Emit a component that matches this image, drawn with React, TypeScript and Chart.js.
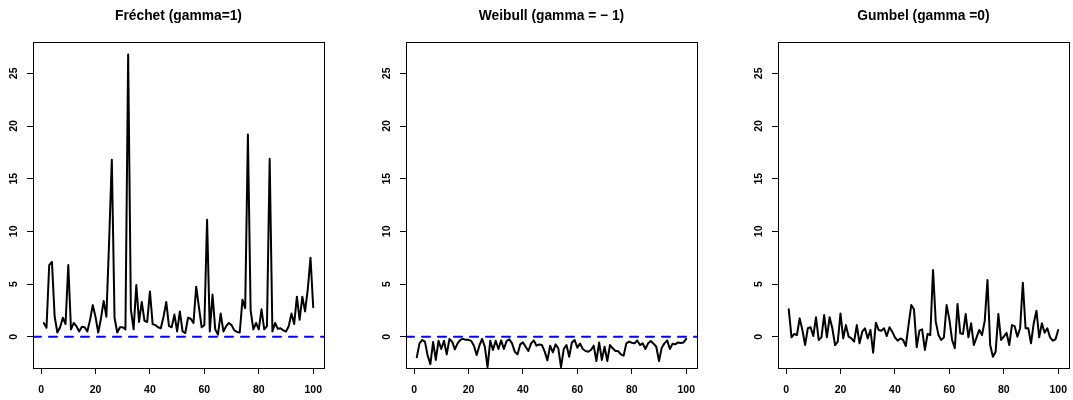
import React, { useEffect, useRef } from "react";
import { Chart, registerables } from "chart.js";

Chart.register(...registerables);

const frechet = [
  1.3, 0.85, 6.8, 7.1, 1.9, 0.4, 0.9, 1.8, 1.2, 6.8,
  0.7, 1.3, 1.0, 0.5, 0.95, 0.9, 0.5, 1.6, 3.0, 1.9,
  0.4, 1.7, 3.4, 1.9, 9.0, 16.8, 1.8, 0.4, 0.9, 0.9,
  0.7, 26.8, 2.6, 0.7, 4.9, 1.4, 3.3, 1.5, 1.4, 4.3,
  1.2, 1.1, 0.9, 0.8, 1.9, 3.3, 1.0, 0.9, 2.1, 0.5,
  2.4, 0.5, 0.35, 1.8, 1.7, 1.3, 4.75, 2.8, 0.9, 1.1,
  11.1, 0.5, 4.0, 0.7, 0.2, 2.2, 0.5, 1.0, 1.3, 1.1,
  0.6, 0.45, 0.4, 3.5, 2.7, 19.2, 2.5, 0.7, 1.3, 0.7,
  2.6, 0.7, 1.0, 16.9, 0.5, 1.3, 0.75, 0.8, 0.6, 0.5,
  1.0, 2.2, 1.2, 3.8, 1.6, 3.8, 2.4, 4.5, 7.5, 2.8,
];

const weibull = [
  -1.96, -0.63, -0.31, -0.47, -1.8, -2.6, -0.5, -2.2, -0.38, -1.17,
  -0.38, -1.68, -0.22, -0.47, -1.2, -0.63, -0.3, -0.2, -0.3, -0.3,
  -0.4, -0.85, -1.74, -0.85, -0.2, -0.95, -2.88, -0.38, -1.26, -0.38,
  -1.17, -0.35, -1.17, -0.41, -0.25, -0.63, -1.42, -1.68, -0.73, -0.54,
  -0.95, -1.36, -0.63, -0.35, -0.85, -0.73, -0.79, -1.42, -2.25, -0.85,
  -1.48, -0.73, -1.1, -2.88, -1.17, -0.79, -1.9, -0.54, -0.31, -1.04,
  -0.66, -1.17, -1.36, -1.42, -1.26, -0.85, -2.31, -0.54, -2.2, -0.95,
  -2.31, -0.79, -1.1, -1.36, -1.36, -1.68, -1.8, -0.63, -0.47, -0.57,
  -0.63, -0.35, -0.79, -0.63, -1.17, -0.63, -0.41, -0.66, -0.95, -2.31,
  -1.04, -0.63, -0.35, -1.17, -0.66, -0.73, -0.54, -0.6, -0.54, -0.2,
];

const gumbel = [
  2.6, -0.06, 0.26, 0.16, 1.74, 0.64, -0.79, 0.8, 0.9, 0.06,
  1.84, -0.31, -0.06, 2.06, -0.06, 1.84, 0.8, -0.79, -0.47, 2.2,
  -0.16, 1.1, 0.0, -0.16, -0.47, 1.1, -0.63, 0.48, 0.8, -0.16,
  0.64, -1.52, 1.33, 0.64, 0.57, 0.8, 0.06, 0.9, 0.48, -0.06,
  -0.38, -0.16, -0.31, -0.88, 1.1, 3.0, 2.6, -1.0, 0.57, 0.7,
  -1.26, 0.26, 0.16, 6.33, 1.43, 0.16, -0.31, -0.06, 3.0, 1.65,
  -0.31, -1.1, 3.1, 0.32, 0.26, 2.15, -0.06, 1.27, -0.79, -0.06,
  0.64, 0.16, 1.5, 5.38, -0.79, -1.9, -1.42, 2.15, -0.31, 0.0,
  0.38, -0.79, 1.1, 1.0, 0.0, 0.8, 5.13, 0.8, 0.8, -0.63,
  1.27, 2.47, -0.06, 1.27, 0.38, 0.8, -0.06, -0.38, -0.25, 0.64,
];

const xTicks = [0, 20, 40, 60, 80, 100];
const yTicks = [0, 5, 10, 15, 20, 25];
const titles = ["Fréchet (gamma=1)", "Weibull (gamma = \u2212 1)", "Gumbel (gamma =0)"];

const X_MIN = -2.96;
const X_MAX = 103.96;
const Y_MIN = -2.97;
const Y_MAX = 27.97;

const FONT = "'Liberation Sans', Arial, Helvetica, sans-serif";

const boxPlugin = {
  id: "rbox",
  afterDraw(chart: any) {
    const { ctx, chartArea } = chart;
    ctx.save();
    ctx.strokeStyle = "#000";
    ctx.lineWidth = 1;
    ctx.strokeRect(
      Math.round(chartArea.left) + 0.5,
      Math.round(chartArea.top) + 0.5,
      Math.round(chartArea.right - chartArea.left),
      Math.round(chartArea.bottom - chartArea.top)
    );
    ctx.restore();
  },
};

function Panel(props: { title: string; values: number[]; zero: boolean; left: number }) {
  const ref = useRef<HTMLCanvasElement | null>(null);
  useEffect(() => {
    if (!ref.current) return;
    const datasets: any[] = [];
    if (props.zero) {
      datasets.push({
        data: [
          { x: X_MIN, y: 0 },
          { x: X_MAX, y: 0 },
        ],
        borderColor: "#0000FF",
        borderWidth: 2,
        borderDash: [8, 8],
        borderCapStyle: "round",
        pointRadius: 0,
        tension: 0,
      });
    }
    datasets.push({
      data: props.values.map((v, k) => ({ x: k + 1, y: v })),
      borderColor: "#000000",
      borderWidth: 2,
      borderJoinStyle: "round",
      borderCapStyle: "round",
      pointRadius: 0,
      tension: 0,
    });
    const tickFont = { family: FONT, size: 10.5, weight: "bold" as const };
    const chart = new Chart(ref.current, {
      type: "line",
      data: { datasets },
      plugins: [boxPlugin],
      options: {
        responsive: false,
        animation: false,
        devicePixelRatio: 1,
        layout: { padding: { left: 0, right: 33, top: 0, bottom: 0 } },
        plugins: {
          legend: { display: false },
          tooltip: { enabled: false },
          title: {
            display: true,
            fullSize: false,
            text: props.title,
            color: "#000",
            font: { family: FONT, size: 13.8, weight: "bold" },
            padding: { top: 7.5, bottom: 18 },
          },
        },
        scales: {
          x: {
            type: "linear",
            min: X_MIN,
            max: X_MAX,
            afterBuildTicks: (s: any) => {
              s.ticks = xTicks.map((v) => ({ value: v }));
            },
            afterFit: (s: any) => {
              s.height = 32;
            },
            grid: { drawOnChartArea: false, drawTicks: true, tickLength: 6, tickColor: "#000", color: "#000" },
            border: { display: false },
            ticks: { font: tickFont, color: "#000", padding: 10, autoSkip: false, maxRotation: 0 },
          },
          y: {
            type: "linear",
            min: Y_MIN,
            max: Y_MAX,
            afterBuildTicks: (s: any) => {
              s.ticks = yTicks.map((v) => ({ value: v }));
            },
            afterFit: (s: any) => {
              s.width = 33;
            },
            grid: { drawOnChartArea: false, drawTicks: true, tickLength: 6, tickColor: "#000", color: "#000" },
            border: { display: false },
            ticks: {
              font: tickFont,
              color: "#000",
              padding: 7,
              autoSkip: false,
              minRotation: 90,
              maxRotation: 90,
              crossAlign: "center",
            },
          },
        },
      } as any,
    });
    return () => chart.destroy();
  }, []);
  return (
    <canvas
      ref={ref}
      width={357}
      height={400}
      style={{ position: "absolute", left: props.left, top: 0, width: 357, height: 400 }}
    />
  );
}

export default function App() {
  return (
    <div
      style={{
        position: "absolute",
        left: 0,
        top: 0,
        width: 1073,
        height: 400,
        overflow: "hidden",
        background: "#fff",
      }}
    >
      <Panel title={titles[0]} values={frechet} zero={true} left={0} />
      <Panel title={titles[1]} values={weibull} zero={true} left={373} />
      <Panel title={titles[2]} values={gumbel} zero={false} left={745} />
    </div>
  );
}
